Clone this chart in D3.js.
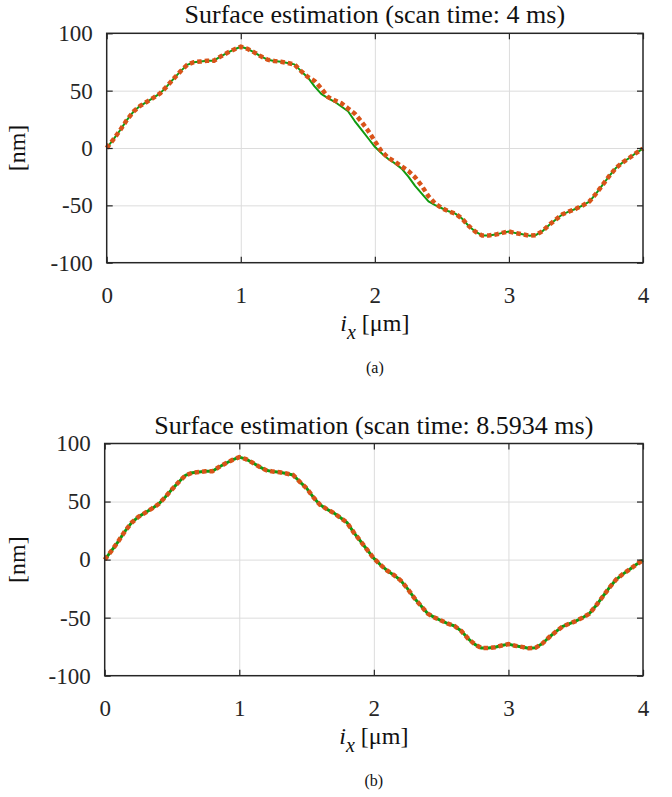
<!DOCTYPE html>
<html>
<head>
<meta charset="utf-8">
<script src="https://cdn.jsdelivr.net/npm/d3@7"></script>
<style>
    body { margin: 0; background: #fff; }
    svg { display: block; font-family: "Liberation Serif", "DejaVu Serif", serif; }
    .grid line { stroke: #dcdcdc; stroke-width: 1; }
    .grid path { display: none; }
    .axis path { display: none; }
    .axis line { stroke: #262626; stroke-width: 1.2; }
    .axis text { fill: #262626; font-size: 23px; font-family: "Liberation Serif", serif; }
</style>
</head>
<body>
<div class="chart-container"></div>
<script>
// sample positions along the scan line [um]
let xs = [0, 0.05, 0.1, 0.15, 0.2, 0.25, 0.3, 0.35, 0.4, 0.45,
    0.5, 0.55, 0.6, 0.65, 0.7, 0.75, 0.8, 0.85, 0.9, 0.95,
    1, 1.05, 1.1, 1.15, 1.2, 1.25, 1.3, 1.35, 1.4, 1.45,
    1.5, 1.55, 1.6, 1.65, 1.7, 1.75, 1.8, 1.85, 1.9, 1.95,
    2, 2.05, 2.1, 2.15, 2.2, 2.25, 2.3, 2.35, 2.4, 2.45,
    2.5, 2.55, 2.6, 2.65, 2.7, 2.75, 2.8, 2.85, 2.9, 2.95,
    3, 3.05, 3.1, 3.15, 3.2, 3.25, 3.3, 3.35, 3.4, 3.45,
    3.5, 3.55, 3.6, 3.65, 3.7, 3.75, 3.8, 3.85, 3.9, 3.95,
    4]

// true surface [nm]
let surface = [0, 7.5, 15.5, 24.3, 31.8, 36.8, 40.3, 43.9, 47.8, 53.9,
    60.5, 66.8, 72.5, 74.8, 75.4, 76, 76.1, 79.8, 83, 85.9,
    88.3, 86.5, 83.4, 79.9, 77, 75.8, 75.2, 74.1, 72.9, 67,
    61.5, 53.8, 47.2, 43.5, 40.3, 36.2, 32, 23.5, 16, 8.5,
    1, -4.5, -9.6, -13.4, -18, -25, -33, -39.8, -46.5, -49.8,
    -52.5, -55.2, -57.2, -61.5, -68, -73, -76.2, -76.2, -75.5, -74,
    -72.8, -74.2, -75.2, -76.4, -76, -72.5, -67.1, -62.3, -57.8, -55.3,
    -53, -50.1, -46.7, -39.8, -32, -24.2, -17.2, -12.5, -8.5, -4.2,
    -0.5]

// estimate, scan time 4 ms
let estimateA = [0, 7.5, 15.5, 24.3, 31.8, 36.8, 40.3, 43.9, 47.8, 53.9,
    60.5, 66.8, 72.5, 74.8, 75.4, 76, 76.1, 79.8, 83, 85.9,
    88.3, 86.5, 83.4, 79.9, 77, 75.8, 75.2, 74.1, 72.9, 67,
    62, 58.5, 52, 44.5, 41.5, 39, 34.5, 30, 23, 15,
    6, -3, -8.5, -12, -16, -20, -25.5, -33, -42, -48.5,
    -52.5, -55.2, -57.2, -61.5, -68, -73, -76.2, -76.2, -75.5, -74,
    -72.8, -74.2, -75.2, -76.4, -76, -72.5, -67.1, -62.3, -57.8, -55.3,
    -53, -50.1, -46.7, -39.8, -32, -24.2, -17.2, -12.5, -8.5, -4.2,
    -0.5]

// estimate, scan time 8.5934 ms
let estimateB = [0, 7.5, 15.5, 24.3, 31.8, 36.8, 40.3, 43.9, 47.8, 53.9,
    60.5, 66.8, 72.5, 74.8, 75.4, 76, 76.1, 79.8, 83, 85.9,
    88.3, 86.5, 83.4, 79.9, 77, 75.8, 75.2, 74.1, 72.9, 67,
    61.5, 53.8, 47.2, 43.5, 40.3, 36.2, 32, 23.5, 16, 8.5,
    1, -4.5, -9.6, -13.4, -18, -25, -33, -39.8, -46.5, -49.8,
    -52.5, -55.2, -57.2, -61.5, -68, -73, -76.2, -76.2, -75.5, -74,
    -72.8, -74.2, -75.2, -76.4, -76, -72.5, -67.1, -62.3, -57.8, -55.3,
    -53, -50.1, -46.7, -39.8, -32, -24.2, -17.2, -12.5, -8.5, -4.2,
    -0.5]

let xTicks = [0, 1, 2, 3, 4]
let yTicks = [-100, -50, 0, 50, 100]

let panels = [
    { title: 'Surface estimation (scan time: 4 ms)', tag: '(a)', est: estimateA,
      left: 106.7, top: 33.3, width: 536.3, height: 229.4, lw: 2 },
    { title: 'Surface estimation (scan time: 8.5934 ms)', tag: '(b)', est: estimateB,
      left: 104.7, top: 443.5, width: 538.3, height: 232.2, lw: 3 }
]

const colors = { truth: '#109a10', est: '#d95319', box: '#262626' }

// plain hyphen for negatives, as in the original figure
const tickFmt = d => String(d)

const svg = d3.select('.chart-container')
    .append('svg')
    .attr('width', 672)
    .attr('height', 797)

panels.forEach(p => drawPanel(p))

function drawPanel(p) {
    const w = p.width, h = p.height

    const xScale = d3.scaleLinear().domain([0, 4]).range([0, w])
    const yScale = d3.scaleLinear().domain([-100, 100]).range([h, 0])

    const g = svg.append('g')
        .attr('transform', `translate(${p.left}, ${p.top})`)

    // grid
    g.append('g')
        .attr('class', 'grid')
        .call(d3.axisBottom(xScale).tickValues(xTicks.slice(1, -1)).tickSize(h).tickFormat(''))
    g.append('g')
        .attr('class', 'grid')
        .call(d3.axisLeft(yScale).tickValues(yTicks.slice(1, -1)).tickSize(-w).tickFormat(''))

    const line = d3.line()
        .x((d, i) => xScale(xs[i]))
        .y(d => yScale(d))

    g.append('path')
        .datum(surface)
        .attr('d', line)
        .attr('fill', 'none')
        .attr('stroke', colors.truth)
        .attr('stroke-width', p.lw)
        .attr('stroke-linejoin', 'round')

    g.append('path')
        .datum(p.est)
        .attr('d', line)
        .attr('fill', 'none')
        .attr('stroke', colors.est)
        .attr('stroke-width', 4.5)
        .attr('stroke-dasharray', '4.5,3')

    // axes, ticks pointing inward like matlab
    const xAxis = g.append('g')
        .attr('class', 'axis')
        .attr('transform', `translate(0, ${h})`)
        .call(d3.axisBottom(xScale).tickValues(xTicks).tickFormat(tickFmt).tickSize(-6).tickPadding(20))
    xAxis.selectAll('text').attr('dy', '0.9em')

    g.append('g')
        .attr('class', 'axis')
        .call(d3.axisTop(xScale).tickValues(xTicks).tickSize(-6).tickFormat(''))

    g.append('g')
        .attr('class', 'axis')
        .call(d3.axisLeft(yScale).tickValues(yTicks).tickFormat(tickFmt).tickSize(-6).tickPadding(14))

    g.append('g')
        .attr('class', 'axis')
        .attr('transform', `translate(${w}, 0)`)
        .call(d3.axisRight(yScale).tickValues(yTicks).tickSize(-6).tickFormat(''))

    g.append('rect')
        .attr('width', w)
        .attr('height', h)
        .attr('fill', 'none')
        .attr('stroke', colors.box)
        .attr('stroke-width', 1.5)

    // labels
    g.append('text')
        .attr('x', w / 2)
        .attr('y', -10)
        .attr('text-anchor', 'middle')
        .attr('font-size', '26px')
        .attr('fill', '#111')
        .text(p.title)

    g.append('text')
        .attr('transform', `translate(${25 - p.left}, ${h / 2}) rotate(-90)`)
        .attr('text-anchor', 'middle')
        .attr('font-size', '24px')
        .attr('fill', '#111')
        .text('[nm]')

    const xl = g.append('text')
        .attr('x', w / 2)
        .attr('y', h + 68)
        .attr('text-anchor', 'middle')
        .attr('font-size', '24px')
        .attr('fill', '#111')
    xl.append('tspan').attr('font-style', 'italic').text('i')
    xl.append('tspan').attr('font-style', 'italic').attr('font-size', '20px').attr('dy', 8).text('x')
    xl.append('tspan').attr('dy', -8).text(' [\u03bcm]')

    g.append('text')
        .attr('x', w / 2)
        .attr('y', h + 110)
        .attr('text-anchor', 'middle')
        .attr('font-size', '16px')
        .attr('fill', '#111')
        .text(p.tag)
}
</script>
</body>
</html>
